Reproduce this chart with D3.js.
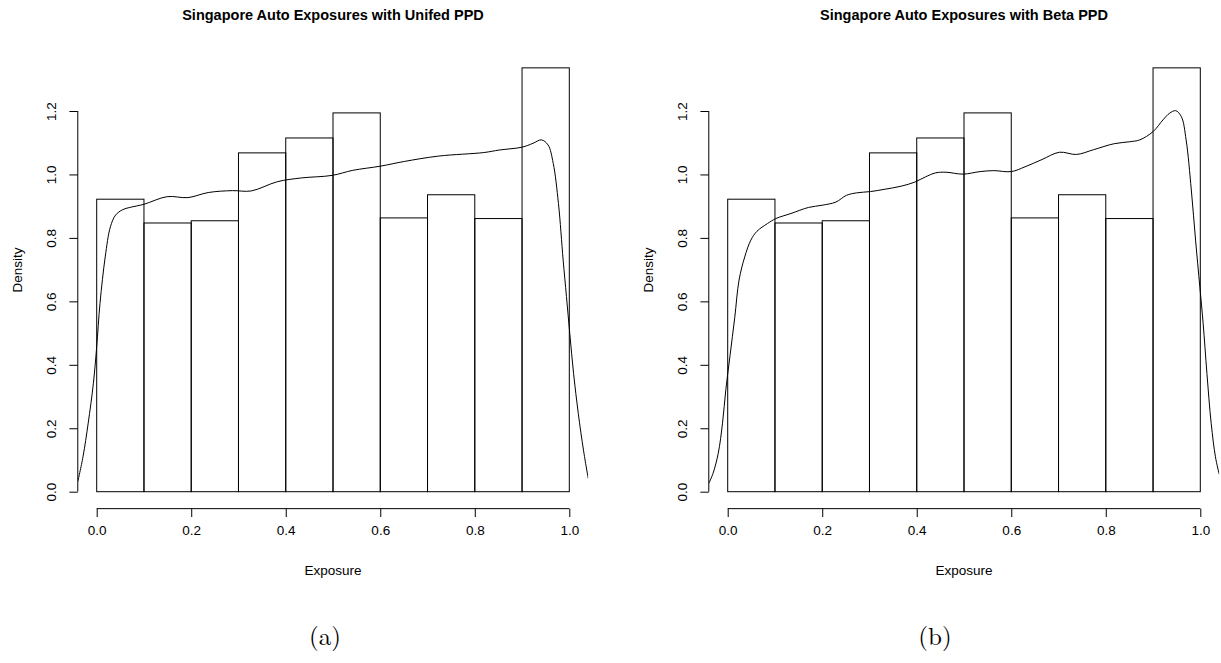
<!DOCTYPE html>
<html>
<head>
<meta charset="utf-8">
<script src="https://cdn.jsdelivr.net/npm/d3@7"></script>
<style>
  html, body { margin: 0; padding: 0; background: #fff; }
  svg { display: block; }
  text { font-family: "Liberation Sans", Arial, Helvetica, sans-serif; fill: #000; }
  .caption { font-family: "Latin Modern Roman", "Liberation Serif", "DejaVu Serif", serif; }
</style>
</head>
<body>
<svg id="chart" width="1221" height="663"></svg>
<script>
// Histogram of exposures (density scale), bins of width 0.1 on [0, 1]
const binEdges = [0.0, 0.1, 0.2, 0.3, 0.4, 0.5, 0.6, 0.7, 0.8, 0.9, 1.0];
const binDensity = [0.922, 0.847, 0.854, 1.068, 1.115, 1.194, 0.863, 0.936, 0.861, 1.336];

// Fitted density: unified PPD
const unifiedX = [-0.04, -0.029, -0.018, -0.007, 0.0, 0.007, 0.018, 0.029, 0.04, 0.055, 0.07, 0.10,
  0.149, 0.193, 0.236, 0.287, 0.327, 0.382, 0.433, 0.498, 0.542, 0.600, 0.651, 0.724, 0.819, 0.852,
  0.900, 0.923, 0.941, 0.955, 0.966, 0.977, 0.987, 0.994, 1.001, 1.009, 1.019, 1.030, 1.040];
const unifiedY = [0.032, 0.110, 0.216, 0.342, 0.457, 0.594, 0.740, 0.835, 0.872, 0.889, 0.896, 0.906,
  0.930, 0.927, 0.943, 0.949, 0.948, 0.977, 0.989, 0.997, 1.013, 1.026, 1.041, 1.058, 1.069, 1.077,
  1.086, 1.098, 1.109, 1.093, 1.035, 0.909, 0.730, 0.615, 0.499, 0.373, 0.247, 0.131, 0.042];

// Fitted density: beta PPD
const betaX = [-0.04, -0.031, -0.020, -0.011, -0.004, 0.005, 0.015, 0.024, 0.036, 0.049, 0.062, 0.084,
  0.102, 0.134, 0.171, 0.200, 0.229, 0.251, 0.273, 0.302, 0.331, 0.367, 0.396, 0.418, 0.440, 0.462,
  0.498, 0.534, 0.563, 0.600, 0.629, 0.665, 0.702, 0.738, 0.774, 0.818, 0.850, 0.872, 0.900, 0.921,
  0.935, 0.948, 0.960, 0.970, 0.981, 0.990, 0.999, 1.006, 1.014, 1.023, 1.032, 1.040];
const betaY = [0.026, 0.058, 0.121, 0.216, 0.321, 0.430, 0.550, 0.667, 0.740, 0.793, 0.821, 0.845,
  0.861, 0.877, 0.896, 0.903, 0.913, 0.934, 0.942, 0.946, 0.953, 0.963, 0.976, 0.992, 1.005, 1.007,
  1.001, 1.009, 1.012, 1.009, 1.024, 1.047, 1.070, 1.063, 1.078, 1.097, 1.103, 1.109, 1.135, 1.172,
  1.193, 1.201, 1.182, 1.109, 0.951, 0.793, 0.646, 0.531, 0.373, 0.216, 0.110, 0.055];

const xTicks = [0.0, 0.2, 0.4, 0.6, 0.8, 1.0];
const yTicks = [0.0, 0.2, 0.4, 0.6, 0.8, 1.0, 1.2];

const panels = [
  { title: "Singapore Auto Exposures with Unifed PPD", caption: "(a)", xs: unifiedX, ys: unifiedY, dx: 0, capX: 325 },
  { title: "Singapore Auto Exposures with Beta PPD", caption: "(b)", xs: betaX, ys: betaY, dx: 631, capX: 935 }
];

const svg = d3.select("#chart");
const fmt = d3.format(".1f");
const tickLen = 8.4;

// Plot region in user units (R-style 4% padding around the data range)
const xLim = [-0.04, 1.04];
const yLim = [-0.0534, 1.39];

panels.forEach((p, i) => {
  const x = d3.scaleLinear().domain([0, 1]).range([96.7 + p.dx, 569.3 + p.dx]);
  const y = d3.scaleLinear().domain([0, 1.2]).range([491.7, 111]);
  const g = svg.append("g");

  const clipId = "plotclip" + i;
  g.append("clipPath").attr("id", clipId)
    .append("rect")
    .attr("x", x(xLim[0])).attr("y", y(yLim[1]))
    .attr("width", x(xLim[1]) - x(xLim[0]))
    .attr("height", y(yLim[0]) - y(yLim[1]));

  // histogram bars
  g.append("g").selectAll("rect")
    .data(binDensity)
    .join("rect")
    .attr("x", (d, j) => x(binEdges[j]))
    .attr("y", d => y(d))
    .attr("width", (d, j) => x(binEdges[j + 1]) - x(binEdges[j]))
    .attr("height", d => y(0) - y(d))
    .attr("fill", "none")
    .attr("stroke", "#000")
    .attr("stroke-width", 1);

  // density curve
  const line = d3.line()
    .x(d => x(d[0]))
    .y(d => y(d[1]))
    .curve(d3.curveCatmullRom.alpha(0.5));
  g.append("path")
    .datum(d3.zip(p.xs, p.ys))
    .attr("clip-path", `url(#${clipId})`)
    .attr("d", line)
    .attr("fill", "none")
    .attr("stroke", "#000")
    .attr("stroke-width", 1);

  // x axis
  const xAxisY = y(yLim[0]);
  const xAxis = d3.axisBottom(x).tickValues(xTicks).tickFormat(fmt)
    .tickSizeInner(tickLen).tickSizeOuter(0).tickPadding(8);
  const gx = g.append("g").attr("transform", `translate(0,${xAxisY})`).call(xAxis);
  gx.select(".domain").attr("d", `M${x(0)},0H${x(1)}`).attr("stroke", "#000");
  gx.selectAll(".tick line").attr("stroke", "#000");
  gx.selectAll(".tick text").attr("font-size", 13.5).attr("font-family", null).attr("fill", "#000");

  // y axis, labels rotated parallel to the axis
  const yAxisX = x(xLim[0]);
  const yAxis = d3.axisLeft(y).tickValues(yTicks).tickFormat(fmt)
    .tickSizeInner(tickLen).tickSizeOuter(0);
  const gy = g.append("g").attr("transform", `translate(${yAxisX},0)`).call(yAxis);
  gy.select(".domain").attr("d", `M0,${y(0)}V${y(1.2)}`).attr("stroke", "#000");
  gy.selectAll(".tick line").attr("stroke", "#000");
  gy.selectAll(".tick text")
    .attr("font-size", 13.5).attr("font-family", null).attr("fill", "#000")
    .attr("x", null).attr("dy", null)
    .attr("text-anchor", "middle")
    .attr("dominant-baseline", "central")
    .attr("transform", "translate(-26,0) rotate(-90)");

  svg.selectAll(".domain").attr("stroke-width", 1);

  const cx = (x(xLim[0]) + x(xLim[1])) / 2;

  // axis titles
  g.append("text").attr("x", cx).attr("y", 575)
    .attr("text-anchor", "middle").attr("font-size", 13.5).text("Exposure");
  g.append("text")
    .attr("transform", `translate(${yAxisX - 60},270) rotate(-90)`)
    .attr("text-anchor", "middle").attr("dominant-baseline", "central")
    .attr("font-size", 13.5).text("Density");

  // main title
  g.append("text").attr("x", cx).attr("y", 20)
    .attr("text-anchor", "middle").attr("font-size", 14.5).attr("font-weight", "bold")
    .text(p.title);

  // subfigure caption
  g.append("text").attr("class", "caption").attr("x", p.capX).attr("y", 645)
    .attr("text-anchor", "middle").attr("font-size", 25)
    .text(p.caption);
});
</script>
</body>
</html>
